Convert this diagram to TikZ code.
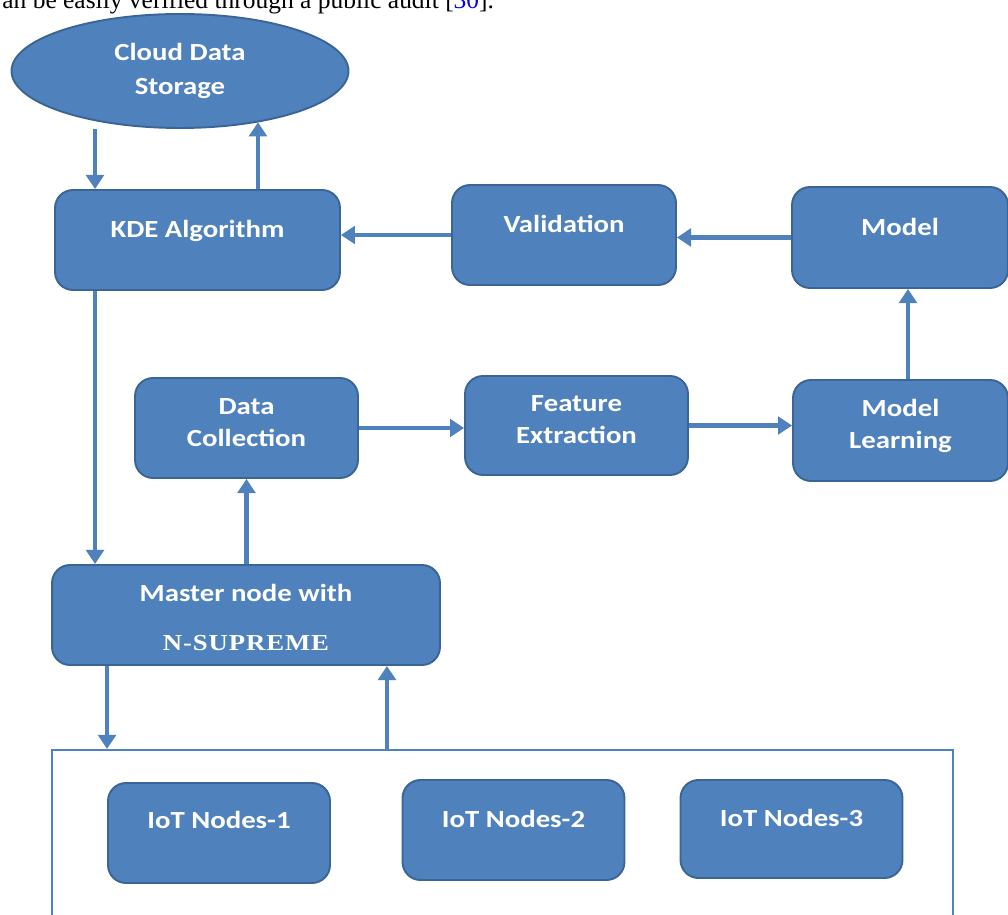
\documentclass[tikz,border=0pt]{standalone}
\usepackage{fontspec}
\setmainfont{Carlito}
\newfontfamily\boxface{Carlito}[FakeStretch=1.17]
\newfontfamily\nameface{Liberation Serif}[FakeStretch=1.17,LetterSpace=4]
\newfontfamily\serifface{Liberation Serif}
\usetikzlibrary{arrows.meta,shapes.geometric}

\definecolor{boxblue}{HTML}{4F81BD}
\definecolor{boxedge}{HTML}{3A6596}
\definecolor{arrowblue}{HTML}{4F81BD}
\definecolor{citeblue}{HTML}{0000EE}

\tikzset{
  block/.style={draw=boxedge, line width=1.1pt, fill=boxblue, rounded corners=0.36cm,
    text=white, align=center, font=\boxface\bfseries\fontsize{14}{18.7}\selectfont},
  oneline/.style={text height=10pt, text depth=#1},
  twoline/.style={text height=28.7pt, text depth=#1},
  cloudbox/.style={ellipse, draw=boxedge, line width=1.1pt, fill=boxblue, inner sep=0pt,
    text=white, align=center, font=\boxface\bfseries\fontsize{14}{19.3}\selectfont},
  iotbox/.style={block, minimum width=4.44cm, minimum height=2cm},
  arr/.style={draw=arrowblue, line width=2.6pt, -{Triangle[width=10pt,length=8pt]}},
  field/.style={draw=arrowblue, line width=1.2pt}
}

\begin{document}
\begin{tikzpicture}[x=0.02cm,y=-0.02cm]
        \useasboundingbox (0,0) rectangle (1008,915);

        % Text above the figure
        \node[anchor=base west, inner sep=0pt, font=\serifface\fontsize{14.5}{17}\selectfont] (quote) at (2,9)
          {an be easily verified through a public audit [\textcolor{citeblue}{30}].};

        % Storage
        \node[cloudbox, minimum width=6.74cm, minimum height=2.28cm] (cloud) at (180,71) {Cloud Data\\Storage};

        % Upper row
        \node[block, oneline=12.6pt, minimum width=5.7cm, minimum height=2cm] (kde) at (197.5,240) {KDE Algorithm};
        \node[block, oneline=12.5pt, minimum width=4.48cm, minimum height=2cm] (val) at (564,235) {Validation};
        \node[block, oneline=11.8pt, minimum width=4.32cm, minimum height=2.02cm] (model) at (900,237.5) {Model};

        % Middle row
        \node[block, twoline=7.2pt, minimum width=4.46cm, minimum height=2cm] (dc) at (246.5,428) {Data\\Collection};
        \node[block, twoline=7.8pt, minimum width=4.46cm, minimum height=1.98cm] (fe) at (576.5,425.5) {Feature\\Extraction};
        \node[block, twoline=7.8pt, minimum width=4.3cm, minimum height=2.02cm] (ml) at (900.5,430.5) {Model\\Learning};

        % Master node
        \node[block, text height=42.6pt, text depth=2pt, minimum width=7.76cm, minimum height=2cm] (master) at (246,615)
          {Master node with\\[9.1pt]{\nameface\bfseries\fontsize{13}{18.7}\selectfont N-SUPREME}};

        % IoT field
        \node[field, minimum width=18.02cm, minimum height=4cm] (iot) at (502.5,850) {};
        \node[iotbox, oneline=14.6pt] (iot1) at (219,833) {IoT Nodes-1};
        \node[iotbox, oneline=13.4pt] (iot2) at (513.5,830) {IoT Nodes-2};
        \node[iotbox, oneline=12.4pt, minimum height=1.96cm] (iot3) at (791.5,829) {IoT Nodes-3};

        % Arrow positions
        \coordinate (kdeIn) at ([xshift=-2.05cm]kde.north);
        \coordinate (kdeOut) at ([xshift=1.21cm]kde.north);
        \coordinate (kdeDown) at ([xshift=-2.05cm]kde.south);
        \coordinate (masterDown) at ([xshift=-2.78cm]master.south);
        \coordinate (masterUp) at ([xshift=2.82cm]master.south);
        \coordinate (mlUp) at ([xshift=0.15cm]ml.north);

        % Storage <-> KDE
        \draw[arr] (kdeIn |- cloud.south) -- (kdeIn);
        \draw[arr] (kdeOut) -- (kdeOut |- cloud.-33);

        % Upper row
        \draw[arr] (val.west) -- (val.west -| kde.east);
        \draw[arr] (model.west) -- (model.west -| val.east);

        % Middle row
        \draw[arr] (dc.east) -- (dc.east -| fe.west);
        \draw[arr] (fe.east) -- (fe.east -| ml.west);
        \draw[arr] (mlUp) -- (mlUp |- model.south);

        % KDE, master and data collection
        \draw[arr] (kdeDown) -- (kdeDown |- master.north);
        \draw[arr] (dc.south |- master.north) -- (dc.south);

        % Master <-> IoT field
        \draw[arr] (masterDown) -- (masterDown |- iot.north);
        \draw[arr] (masterUp |- iot.north) -- (masterUp);
      \end{tikzpicture}
\end{document}
